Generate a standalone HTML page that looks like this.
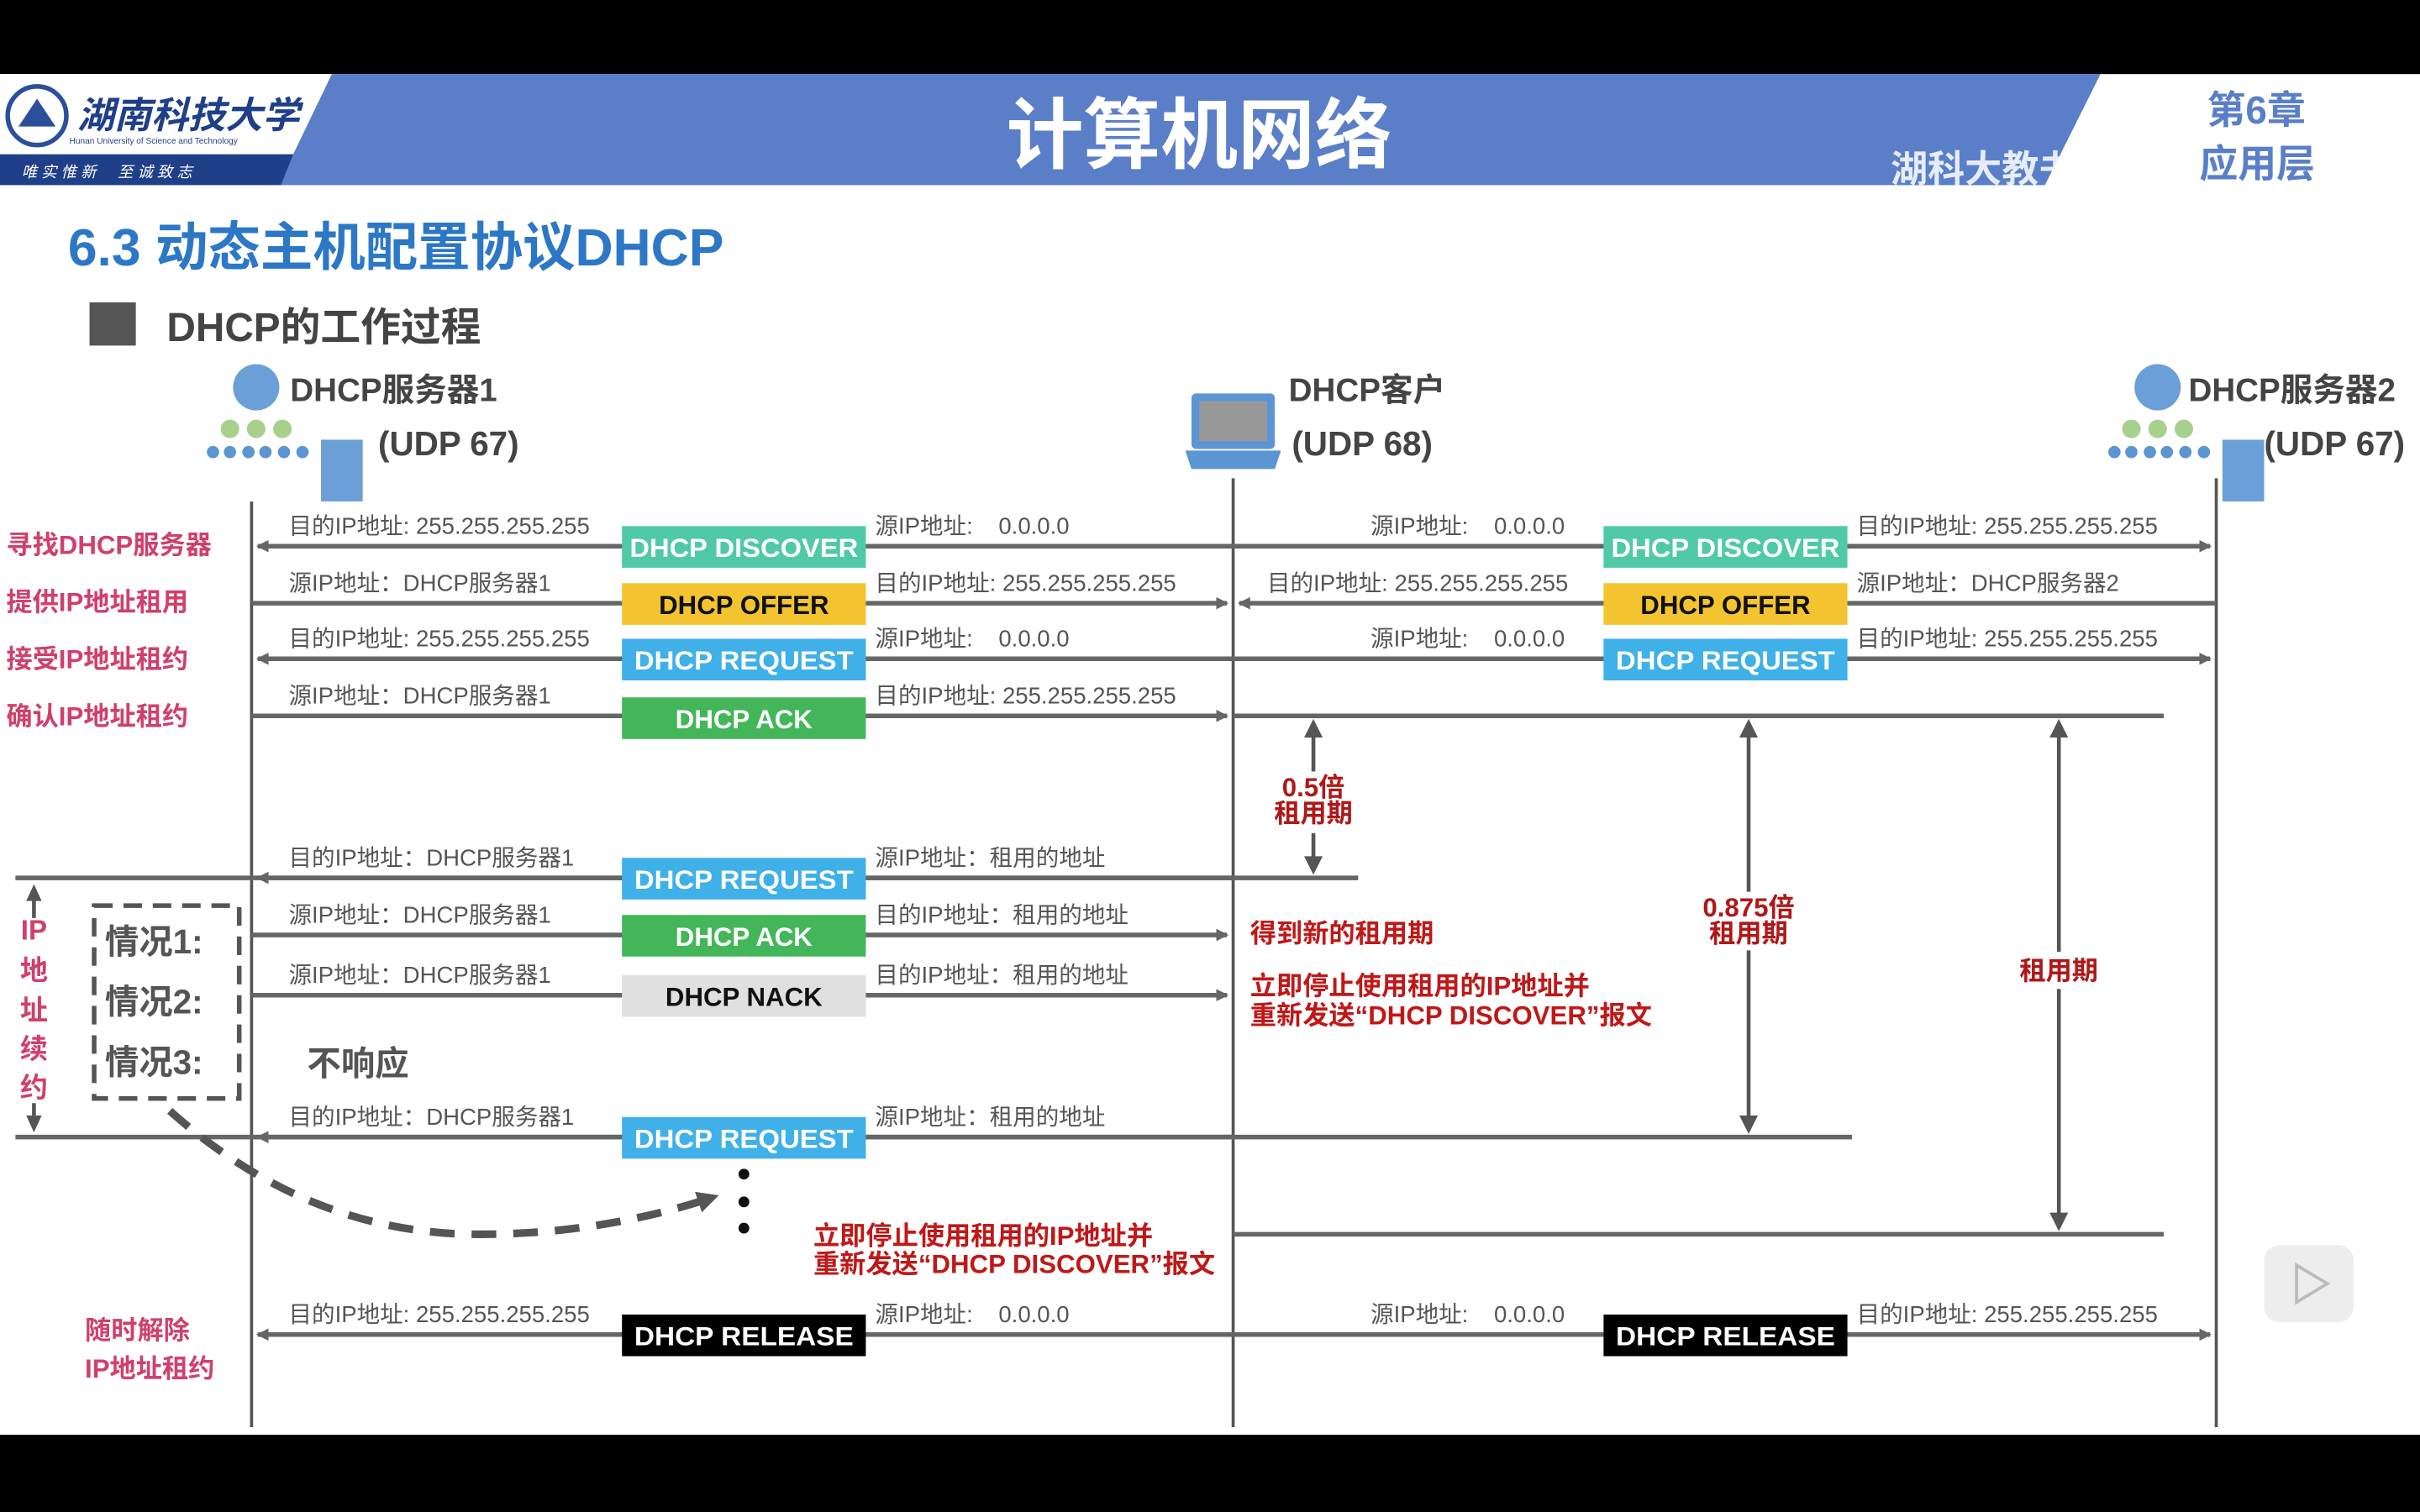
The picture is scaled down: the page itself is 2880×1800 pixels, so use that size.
<!DOCTYPE html>
<html><head><meta charset="utf-8"><style>
html,body{margin:0;padding:0;background:#000;}
svg{display:block;}
text{font-family:"Liberation Sans","Noto Sans CJK SC","WenQuanYi Zen Hei",sans-serif;}
</style></head><body>
<svg width="2880" height="1800" viewBox="0 0 1568 980" preserveAspectRatio="none" xmlns="http://www.w3.org/2000/svg">
<defs>
<marker id="ah" markerWidth="8" markerHeight="8" refX="7" refY="4" orient="auto" markerUnits="userSpaceOnUse"><path d="M0,0 L8,4 L0,8 Z" fill="#666"/></marker>
<marker id="ahd" markerWidth="14" markerHeight="14" refX="10" refY="7" orient="auto" markerUnits="userSpaceOnUse"><path d="M0,0 L14,7 L0,14 Z" fill="#555"/></marker>
</defs>
<rect x="0" y="0" width="1568" height="980" fill="#000"/>
<rect x="0" y="48" width="1568" height="882" fill="#fff"/>
<!-- header -->
<polygon points="200,48 1361,48 1325,120 180,120" fill="#5a7fc8"/>
<polygon points="0,48 215,48 190,100 0,100" fill="#fff"/>
<polygon points="0,100 190,100 182,120 0,120" fill="#1f3f88"/>
<circle cx="24" cy="75" r="19" fill="#fff" stroke="#2b4f9a" stroke-width="3"/>
<path d="M12,82 L24,64 L36,82 Z" fill="#2b4f9a"/>
<text x="50" y="83" font-size="24" font-style="italic" font-weight="bold" fill="#1f3f88">湖南科技大学</text>
<text x="45" y="93" font-size="5.5" fill="#1f3f88">Hunan University of Science and Technology</text>
<text x="14" y="115" font-size="10" fill="#fff" font-style="italic">唯 实 惟 新 &#160;&#160;&#160; 至 诚 致 志</text>
<text x="777" y="105" font-size="50" font-weight="bold" fill="#fff" text-anchor="middle">计算机网络</text>
<text x="1225" y="118" font-size="24" font-weight="bold" fill="#fff" opacity="0.85">湖科大教书匠</text>
<text x="1430" y="80" font-size="25" font-weight="bold" fill="#5a7fc8">第6章</text>
<text x="1425" y="115" font-size="25" font-weight="bold" fill="#5a7fc8">应用层</text>
<!-- title -->
<text x="44" y="172" font-size="34" font-weight="bold" fill="#2c78c6">6.3 动态主机配置协议DHCP</text>
<rect x="58" y="196" width="30" height="28" fill="#555"/>
<text x="108" y="221" font-size="26" font-weight="bold" fill="#444">DHCP的工作过程</text>
<!-- server icons -->
<g id="srv">
<circle cx="166" cy="251" r="15" fill="#6a9fd8"/>
<circle cx="149" cy="278" r="6" fill="#a8d08d"/><circle cx="166" cy="278" r="6" fill="#a8d08d"/><circle cx="183" cy="278" r="6" fill="#a8d08d"/>
<circle cx="138" cy="293" r="4" fill="#5b95d4"/><circle cx="149" cy="293" r="4" fill="#5b95d4"/><circle cx="161" cy="293" r="4" fill="#5b95d4"/><circle cx="172" cy="293" r="4" fill="#5b95d4"/><circle cx="184" cy="293" r="4" fill="#5b95d4"/><circle cx="196" cy="293" r="4" fill="#5b95d4"/>
<rect x="208" y="285" width="27" height="40" fill="#6a9fd8"/>
</g>
<use href="#srv" x="1232" y="0"/>
<text x="188" y="260" font-size="21" font-weight="bold" fill="#444">DHCP服务器1</text>
<text x="245" y="295" font-size="22" font-weight="bold" fill="#444">(UDP 67)</text>
<text x="1418" y="260" font-size="21" font-weight="bold" fill="#444">DHCP服务器2</text>
<text x="1467" y="295" font-size="22" font-weight="bold" fill="#444">(UDP 67)</text>
<!-- laptop -->
<rect x="772" y="255" width="54" height="36" rx="3" fill="#5b95d4"/>
<rect x="777" y="260" width="44" height="26" fill="#999"/>
<path d="M768,292 L830,292 L826,304 L772,304 Z" fill="#5b95d4"/>
<text x="835" y="260" font-size="21" font-weight="bold" fill="#444">DHCP客户</text>
<text x="837" y="295" font-size="22" font-weight="bold" fill="#444">(UDP 68)</text>
<!-- lifelines -->
<g stroke="#555" stroke-width="2">
<line x1="163" y1="325" x2="163" y2="925"/>
<line x1="799" y1="310" x2="799" y2="925"/>
<line x1="1436" y1="310" x2="1436" y2="925"/>
</g>
<!-- message lines -->
<g stroke="#666" stroke-width="3" fill="none">
<line x1="799" y1="354" x2="167" y2="354" marker-end="url(#ah)"/>
<line x1="163" y1="391" x2="795" y2="391" marker-end="url(#ah)"/>
<line x1="799" y1="427" x2="167" y2="427" marker-end="url(#ah)"/>
<line x1="163" y1="464" x2="795" y2="464" marker-end="url(#ah)"/>
<line x1="799" y1="354" x2="1432" y2="354" marker-end="url(#ah)"/>
<line x1="1436" y1="391" x2="803" y2="391" marker-end="url(#ah)"/>
<line x1="799" y1="427" x2="1432" y2="427" marker-end="url(#ah)"/>
<line x1="799" y1="464" x2="1402" y2="464"/>
<line x1="10" y1="569" x2="880" y2="569"/>
<line x1="799" y1="569" x2="167" y2="569" marker-end="url(#ah)"/>
<line x1="163" y1="606" x2="795" y2="606" marker-end="url(#ah)"/>
<line x1="163" y1="645" x2="795" y2="645" marker-end="url(#ah)"/>
<line x1="10" y1="737" x2="1200" y2="737"/>
<line x1="799" y1="737" x2="167" y2="737" marker-end="url(#ah)"/>
<line x1="799" y1="800" x2="1402" y2="800"/>
<line x1="799" y1="865" x2="167" y2="865" marker-end="url(#ah)"/>
<line x1="799" y1="865" x2="1432" y2="865" marker-end="url(#ah)"/>
</g>
<!-- vertical double arrows -->
<g stroke="#555" stroke-width="2.5">
<line x1="851" y1="476" x2="851" y2="500"/>
<line x1="851" y1="540" x2="851" y2="557"/>
<path d="M845,478 L851,466 L857,478 Z M845,555 L851,567 L857,555 Z" fill="#555" stroke="none"/>
<line x1="1133" y1="476" x2="1133" y2="725"/>
<path d="M1127,478 L1133,466 L1139,478 Z M1127,723 L1133,735 L1139,723 Z" fill="#555" stroke="none"/>
<line x1="1334" y1="476" x2="1334" y2="788"/>
<path d="M1328,478 L1334,466 L1340,478 Z M1328,786 L1334,798 L1340,786 Z" fill="#555" stroke="none"/>
<line x1="22" y1="583" x2="22" y2="595"/>
<line x1="22" y1="715" x2="22" y2="723"/>
<path d="M17,584 L22,573 L27,584 Z M17,723 L22,734 L27,723 Z" fill="#555" stroke="none"/>
</g>
<rect x="1098" y="578" width="70" height="38" fill="#fff"/>
<rect x="1305" y="617" width="58" height="24" fill="#fff"/>
<g fill="#b01818" font-weight="bold" font-size="17" text-anchor="middle">
<text x="851" y="516">0.5倍</text><text x="851" y="533">租用期</text>
<text x="1133" y="594">0.875倍</text><text x="1133" y="611">租用期</text>
<text x="1334" y="635">租用期</text>
</g>
<!-- boxes -->
<g font-size="17" font-weight="bold" text-anchor="middle">
<rect x="403" y="341" width="158" height="27" fill="#4fc9a6"/><text x="482" y="361" fill="#fff" textLength="148" lengthAdjust="spacingAndGlyphs">DHCP DISCOVER</text>
<rect x="403" y="378" width="158" height="27" fill="#f4c430"/><text x="482" y="398" fill="#111">DHCP OFFER</text>
<rect x="403" y="414" width="158" height="27" fill="#3fb0e8"/><text x="482" y="434" fill="#fff" textLength="142" lengthAdjust="spacingAndGlyphs">DHCP REQUEST</text>
<rect x="403" y="452" width="158" height="27" fill="#44b65a"/><text x="482" y="472" fill="#fff">DHCP ACK</text>
<rect x="1039" y="341" width="158" height="27" fill="#4fc9a6"/><text x="1118" y="361" fill="#fff" textLength="148" lengthAdjust="spacingAndGlyphs">DHCP DISCOVER</text>
<rect x="1039" y="378" width="158" height="27" fill="#f4c430"/><text x="1118" y="398" fill="#111">DHCP OFFER</text>
<rect x="1039" y="414" width="158" height="27" fill="#3fb0e8"/><text x="1118" y="434" fill="#fff" textLength="142" lengthAdjust="spacingAndGlyphs">DHCP REQUEST</text>
<rect x="403" y="556" width="158" height="27" fill="#3fb0e8"/><text x="482" y="576" fill="#fff" textLength="142" lengthAdjust="spacingAndGlyphs">DHCP REQUEST</text>
<rect x="403" y="593" width="158" height="27" fill="#44b65a"/><text x="482" y="613" fill="#fff">DHCP ACK</text>
<rect x="403" y="632" width="158" height="27" fill="#e0e0e0"/><text x="482" y="652" fill="#111">DHCP NACK</text>
<rect x="403" y="724" width="158" height="27" fill="#3fb0e8"/><text x="482" y="744" fill="#fff" textLength="142" lengthAdjust="spacingAndGlyphs">DHCP REQUEST</text>
<rect x="403" y="852" width="158" height="27" fill="#000"/><text x="482" y="872" fill="#fff" textLength="142" lengthAdjust="spacingAndGlyphs">DHCP RELEASE</text>
<rect x="1039" y="852" width="158" height="27" fill="#000"/><text x="1118" y="872" fill="#fff" textLength="142" lengthAdjust="spacingAndGlyphs">DHCP RELEASE</text>
</g>
<!-- small labels -->
<g font-size="15" fill="#555">
<text x="187" y="346">目的IP地址: 255.255.255.255</text>
<text x="567" y="346">源IP地址: &#160;&#160; 0.0.0.0</text>
<text x="187" y="383">源IP地址：DHCP服务器1</text>
<text x="567" y="383">目的IP地址: 255.255.255.255</text>
<text x="187" y="419">目的IP地址: 255.255.255.255</text>
<text x="567" y="419">源IP地址: &#160;&#160; 0.0.0.0</text>
<text x="187" y="456">源IP地址：DHCP服务器1</text>
<text x="567" y="456">目的IP地址: 255.255.255.255</text>
<text x="888" y="346">源IP地址: &#160;&#160; 0.0.0.0</text>
<text x="1203" y="346">目的IP地址: 255.255.255.255</text>
<text x="821" y="383">目的IP地址: 255.255.255.255</text>
<text x="1203" y="383">源IP地址：DHCP服务器2</text>
<text x="888" y="419">源IP地址: &#160;&#160; 0.0.0.0</text>
<text x="1203" y="419">目的IP地址: 255.255.255.255</text>
<text x="187" y="561">目的IP地址：DHCP服务器1</text>
<text x="567" y="561">源IP地址：租用的地址</text>
<text x="187" y="598">源IP地址：DHCP服务器1</text>
<text x="567" y="598">目的IP地址：租用的地址</text>
<text x="187" y="637">源IP地址：DHCP服务器1</text>
<text x="567" y="637">目的IP地址：租用的地址</text>
<text x="187" y="729">目的IP地址：DHCP服务器1</text>
<text x="567" y="729">源IP地址：租用的地址</text>
<text x="187" y="857">目的IP地址: 255.255.255.255</text>
<text x="567" y="857">源IP地址: &#160;&#160; 0.0.0.0</text>
<text x="888" y="857">源IP地址: &#160;&#160; 0.0.0.0</text>
<text x="1203" y="857">目的IP地址: 255.255.255.255</text>
</g>
<!-- pink labels -->
<g fill="#d0406a" font-size="17" font-weight="bold">
<text x="4" y="359">寻找DHCP服务器</text>
<text x="4" y="396">提供IP地址租用</text>
<text x="4" y="433">接受IP地址租约</text>
<text x="4" y="470">确认IP地址租约</text>
<text x="55" y="868">随时解除</text>
<text x="55" y="893">IP地址租约</text>
<g text-anchor="middle" font-size="18"><text x="22" y="609">IP</text><text x="22" y="635">地</text><text x="22" y="661">址</text><text x="22" y="686">续</text><text x="22" y="711">约</text></g>
</g>
<!-- dashed box -->
<rect x="61" y="587" width="94" height="125" fill="none" stroke="#555" stroke-width="3" stroke-dasharray="12,7"/>
<g font-size="22" font-weight="bold" fill="#555">
<text x="68" y="618">情况1:</text>
<text x="68" y="657">情况2:</text>
<text x="68" y="696">情况3:</text>
<text x="199" y="697">不响应</text>
</g>
<path d="M110,720 Q200,800 310,800 Q390,800 462,776" fill="none" stroke="#555" stroke-width="5" stroke-dasharray="16,11" marker-end="url(#ahd)"/>
<circle cx="482" cy="761" r="3.5" fill="#111"/><circle cx="482" cy="779" r="3.5" fill="#111"/><circle cx="482" cy="796" r="3.5" fill="#111"/>
<!-- red notes -->
<g fill="#c01818" font-size="17" font-weight="bold">
<text x="810" y="611">得到新的租用期</text>
<text x="810" y="645">立即停止使用租用的IP地址并</text>
<text x="810" y="664">重新发送“DHCP DISCOVER”报文</text>
<text x="527" y="807">立即停止使用租用的IP地址并</text>
<text x="527" y="825">重新发送“DHCP DISCOVER”报文</text>
</g>
<!-- play button -->
<rect x="1467" y="807" width="58" height="50" rx="10" fill="#e8e8e8" opacity="0.8"/>
<path d="M1488,820 L1508,832 L1488,844 Z" fill="none" stroke="#bbb" stroke-width="2"/>
<rect x="0" y="930" width="1568" height="50" fill="#000"/>
</svg>
</body></html>
